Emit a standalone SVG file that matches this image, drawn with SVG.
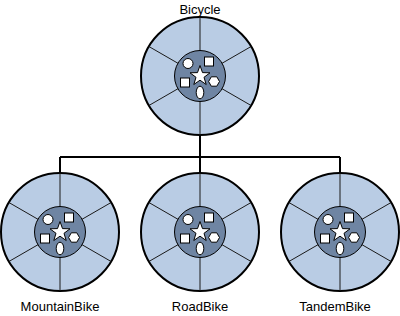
<svg xmlns="http://www.w3.org/2000/svg" xmlns:xlink="http://www.w3.org/1999/xlink" width="400" height="316" viewBox="0 0 400 316">
<style>
.outer{fill:#B9CCE4;stroke:#000;stroke-width:2}
.spoke{stroke:#1a1a1a;stroke-width:1;fill:none}
.inner{fill:#6F85A3;stroke:#000;stroke-width:1}
.sh{fill:#fff;stroke:#000;stroke-width:1}
.conn{stroke:#000;stroke-width:2;fill:none}
.lbl{font-family:"Liberation Sans",Arial,sans-serif;font-size:13px;fill:#000;text-anchor:middle}
</style>
<defs>
<g id="wheel">
<circle class="outer" cx="0" cy="0" r="59"/>
<path class="spoke" d="M0,-59V59M-51.1,-29.5L51.1,29.5M-51.1,29.5L51.1,-29.5"/>
<circle class="inner" cx="0" cy="0" r="25.5"/>
<circle class="sh" cx="-12" cy="-12.5" r="5"/>
<rect class="sh" x="4.5" y="-19" width="9" height="9"/>
<polygon class="sh" points="0,-10.5 2.5,-3.4 10,-3.2 4,1.3 6.2,8.5 0,4.2 -6.2,8.5 -4,1.3 -10,-3.2 -2.5,-3.4"/>
<rect class="sh" x="-19.5" y="2" width="9" height="9"/>
<polygon class="sh" points="19.5,5.5 16.8,10.2 11.3,10.2 8.6,5.5 11.3,0.8 16.8,0.8"/>
<ellipse class="sh" cx="0" cy="16.5" rx="3.8" ry="6.3"/>
</g>
</defs>
<g id="connectors">
<path class="conn" d="M200,135V157M60,157H340M60,157V173M200,157V173M340,157V173"/>
</g>
<g id="bicycle">
<use xlink:href="#wheel" x="200" y="76"/>
<text class="lbl" x="200" y="14">Bicycle</text>
</g>
<g id="mountainbike">
<use xlink:href="#wheel" x="60" y="232"/>
<text class="lbl" x="60" y="311">MountainBike</text>
</g>
<g id="roadbike">
<use xlink:href="#wheel" x="200" y="232"/>
<text class="lbl" x="200" y="311">RoadBike</text>
</g>
<g id="tandembike">
<use xlink:href="#wheel" x="340" y="232"/>
<text class="lbl" x="335" y="311">TandemBike</text>
</g>
</svg>
